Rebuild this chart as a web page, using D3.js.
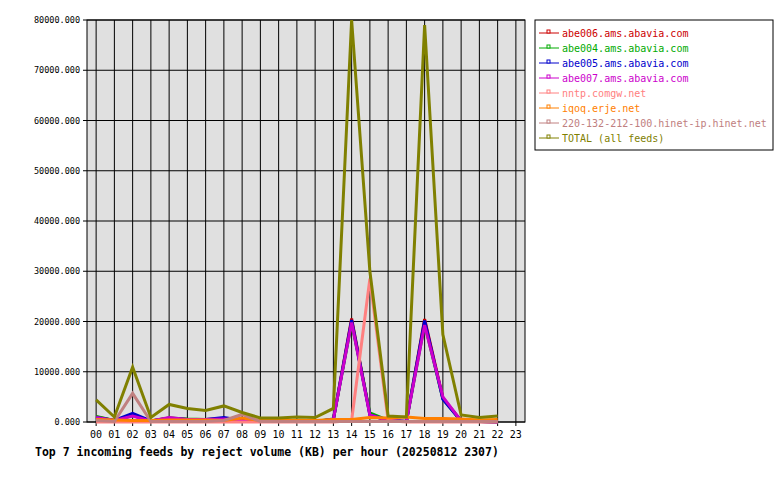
<!DOCTYPE html>
<html><head><meta charset="utf-8">
<script src="https://cdn.jsdelivr.net/npm/d3@7"></script>
<style>body{margin:0;background:#fff}text{font-family:"DejaVu Sans Mono",monospace}</style>
</head><body><div id="chart-area"></div>
<script>
const hours = d3.range(24).map(h => String(h).padStart(2, "0"));
const seriesNames = ["abe006.ams.abavia.com","abe004.ams.abavia.com","abe005.ams.abavia.com","abe007.ams.abavia.com","nntp.comgw.net","iqoq.erje.net","220-132-212-100.hinet-ip.hinet.net","TOTAL (all feeds)"];
const colors = ["#cc0000","#00aa00","#0000cc","#cc00cc","#ff8080","#ff8000","#c08080","#808000"];
const abe006 = [1000,300,1400,200,800,500,500,600,300,100,100,100,100,500,20600,1500,300,100,20500,4800,200,100,0];
const abe004 = [1100,300,1300,200,800,600,500,600,300,100,100,100,100,600,19800,1800,300,100,19500,4600,200,100,0];
const abe005 = [900,300,1700,200,700,500,500,900,300,100,100,100,100,500,20300,1400,300,100,20200,4500,200,100,0];
const abe007 = [900,300,1200,200,900,500,500,600,300,100,100,100,100,500,19800,1400,300,100,19300,5000,200,100,0];
const nntp = [0,0,0,0,0,0,0,0,0,0,0,0,0,0,300,28500,300,0,0,0,0,0,0];
const iqoq = [500,400,300,300,400,400,400,300,800,300,300,300,300,500,500,900,800,1000,700,700,600,400,500];
const hinet = [300,100,5700,100,100,100,100,300,1500,100,100,100,100,100,100,100,100,100,100,100,100,100,100];
const total = [4400,1000,10900,900,3500,2700,2300,3200,1900,800,800,1000,900,2700,80000,30000,1200,1000,79000,17400,1400,900,1200];
const seriesData = [abe006,abe004,abe005,abe007,nntp,iqoq,hinet,total];
const yTicks = d3.range(0, 80001, 10000);

const margin = {left: 87, top: 20, right: 255, bottom: 58};
const width = 780 - margin.left - margin.right, height = 480 - margin.top - margin.bottom;

const svg = d3.select("#chart-area").append("svg").attr("width", 780).attr("height", 480);
const g = svg.append("g").attr("transform", `translate(${margin.left},${margin.top})`);

const x = d3.scaleBand().domain(hours).range([0, width]);
const y = d3.scaleLinear().domain([0, 80000]).range([height, 0]);
const xc = i => x(hours[i]) + x.bandwidth() / 2;

g.append("rect").attr("width", width).attr("height", height).attr("fill", "#e0e0e0");
g.selectAll(".vg").data(hours).join("line").attr("x1", d => x(d) + x.bandwidth()/2).attr("x2", d => x(d) + x.bandwidth()/2)
  .attr("y1", 0).attr("y2", height + 4).attr("stroke", "#000");
g.selectAll(".hg").data(yTicks).join("line").attr("x1", -4).attr("x2", width).attr("y1", d => y(d)).attr("y2", d => y(d)).attr("stroke", "#000");
g.append("rect").attr("width", width).attr("height", height).attr("fill", "none").attr("stroke", "#000");

g.selectAll(".yl").data(yTicks).join("text").attr("x", -7).attr("y", d => y(d) + 3).attr("text-anchor", "end")
  .attr("font-size", 8.5).text(d => d3.format(".3f")(d));
g.selectAll(".xl").data(hours).join("text").attr("x", d => x(d) + x.bandwidth()/2).attr("y", height + 16)
  .attr("text-anchor", "middle").attr("font-size", 10).text(d => d);

const line = d3.line().x((d, i) => xc(i)).y(d => y(d));
seriesData.forEach((s, k) => {
  g.append("path").datum(s).attr("d", line).attr("fill", "none").attr("stroke", colors[k]).attr("stroke-width", 3);
});

svg.append("text").attr("x", 35).attr("y", 456).attr("font-size", 11.5).attr("font-weight", "bold")
  .text("Top 7 incoming feeds by reject volume (KB) per hour (20250812 2307)");

const lg = svg.append("g").attr("transform", "translate(535,20)");
lg.append("rect").attr("width", 238).attr("height", 130).attr("fill", "#fff").attr("stroke", "#000");
seriesNames.forEach((n, k) => {
  const yy = 13 + k * 15;
  lg.append("line").attr("x1", 4).attr("x2", 24).attr("y1", yy).attr("y2", yy).attr("stroke", colors[k]);
  lg.append("rect").attr("x", 12).attr("y", yy - 3).attr("width", 3).attr("height", 3).attr("fill", "#fff").attr("stroke", colors[k]);
  lg.append("text").attr("x", 27).attr("y", yy + 4).attr("font-size", 10).attr("fill", colors[k]).text(n);
});
</script></body></html>
